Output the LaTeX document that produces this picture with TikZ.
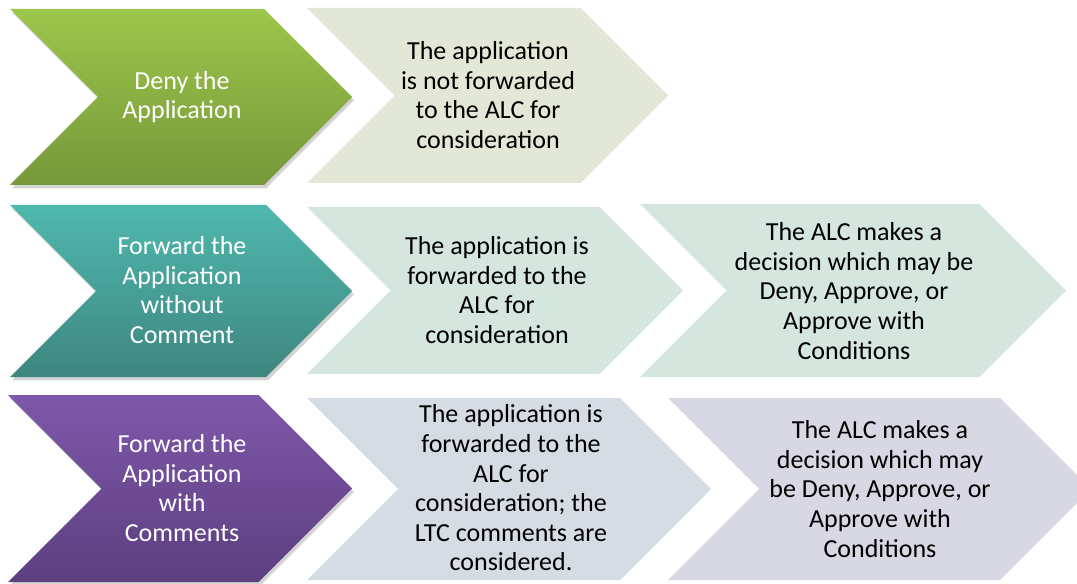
\documentclass[tikz,border=0pt]{standalone}
\usepackage{fontspec}
\setmainfont{Carlito}
\usetikzlibrary{shadows}
\usepackage{xcolor}

\definecolor{greentop}{HTML}{9DC64B}
\definecolor{greenbot}{HTML}{76983A}
\definecolor{tealtop}{HTML}{4FB8AD}
\definecolor{tealbot}{HTML}{3E8680}
\definecolor{purptop}{HTML}{7E58A9}
\definecolor{purpbot}{HTML}{5D3F80}
\definecolor{lightgreen}{HTML}{E2E8D5}
\definecolor{lightteal}{HTML}{D5E6DF}
\definecolor{lightblue}{HTML}{D6DCE4}
\definecolor{lightlilac}{HTML}{D8D7E4}

\tikzset{
  darkchev/.style 2 args={top color=#1, bottom color=#2,
    drop shadow={opacity=.35, shadow xshift=1.5pt, shadow yshift=-2.5pt}},
  lightchev/.style={fill=#1},
  boxtext/.style={align=center, font=\fontsize{19.5}{22.2}\selectfont},
  darktext/.style={boxtext, text=white},
  lighttext/.style={boxtext, text=black}
}

% chevron: [style]{left x}{tip x}{top y}{bottom y}
\newcommand{\chev}[5][]{%
  \pgfmathsetmacro\chevmid{(#4+#5)/2}%
  \pgfmathsetmacro\chevdep{(#5-#4)/2}%
  \path[#1] (#2,#4) -- (#3-\chevdep,#4) -- (#3,\chevmid) -- (#3-\chevdep,#5)
    -- (#2,#5) -- (#2+\chevdep,\chevmid) -- cycle;}

\begin{document}
\begin{tikzpicture}[x=.75pt, y=-.75pt]
    \useasboundingbox (0,0) rectangle (1077,584);
    \clip (0,0) rectangle (1077,584);
    % first row
    \chev[darkchev={greentop}{greenbot}]{10}{352}{9}{185}
    \chev[lightchev=lightgreen]{307}{668}{8}{183}
    \node[darktext] (deny) at (182,97) {Deny the\\Application};
    \node[lighttext] (denyres) at (488,95) {The application\\is not forwarded\\to the ALC for\\consideration};
    % second row
    \chev[darkchev={tealtop}{tealbot}]{10}{352}{205}{377}
    \chev[lightchev=lightteal]{307}{683}{207}{374}
    \chev[lightchev=lightteal]{640}{1066}{204}{377}
    \node[darktext] (fwd) at (182,290) {Forward the\\Application\\without\\Comment};
    \node[lighttext] (fwdres) at (497,290) {The application is\\forwarded to the\\ALC for\\consideration};
    \node[lighttext] (fwddec) at (854,291) {The ALC makes a\\decision which may be\\Deny, Approve, or\\Approve with\\Conditions};
    % third row
    \chev[darkchev={purptop}{purpbot}]{8}{352}{395}{582}
    \chev[lightchev=lightblue]{307}{711}{398}{580}
    \chev[lightchev=lightlilac]{668}{1091}{398}{580}
    \node[darktext] (fwdc) at (182,488) {Forward the\\Application\\with\\Comments};
    \node[lighttext] (fwdcres) at (511,488) {The application is\\forwarded to the\\ALC for\\consideration; the\\LTC comments are\\considered.};
    \node[lighttext] (fwdcdec) at (880,489) {The ALC makes a\\decision which may\\be Deny, Approve, or\\Approve with\\Conditions};
\end{tikzpicture}
\end{document}
